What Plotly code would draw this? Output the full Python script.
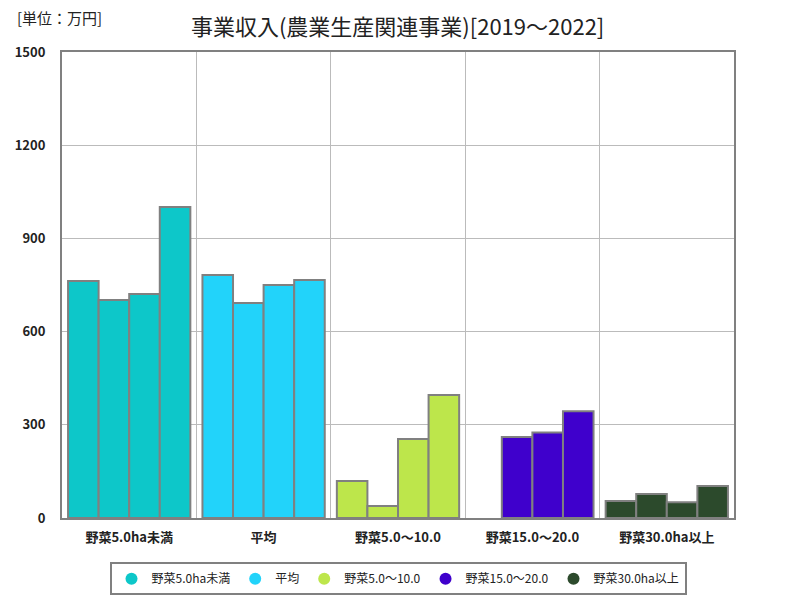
import plotly.graph_objects as go

categories = ["野菜5.0ha未満", "平均", "野菜5.0～10.0", "野菜15.0～20.0", "野菜30.0ha以上"]
years = ["2019", "2020", "2021", "2022"]
values = {
    "2019": [763, 782, 119, None, 55],
    "2020": [702, 692, 39, 261, 77],
    "2021": [721, 750, 254, 275, 51],
    "2022": [1001, 766, 396, 344, 103],
}
colors = ["#0dc7c9", "#22d3fa", "#bde64b", "#3f00cc", "#2c4a2c"]
tick_vals = [0, 300, 600, 900, 1200, 1500]

font = "Noto Sans CJK JP"
fig = go.Figure()
for y in years:
    fig.add_trace(go.Bar(
        x=categories, y=values[y], name=y, showlegend=False,
        marker=dict(color=colors, line=dict(color="#808080", width=2)),
    ))
for c, col in zip(categories, colors):
    fig.add_trace(go.Scatter(
        x=[None], y=[None], mode="markers", name=c,
        marker=dict(color=col, size=7, symbol="circle"),
    ))

fig.update_layout(
    width=800, height=600,
    margin=dict(l=62, r=66, t=52, b=82, autoexpand=False),
    paper_bgcolor="white", plot_bgcolor="white",
    barmode="group", bargap=0.09, bargroupgap=0,
    font=dict(family=font, color="#222"),
    title=dict(text="事業収入(農業生産関連事業)[2019～2022]", x=0.497, xanchor="center",
               y=0.955, yanchor="middle", font=dict(size=22, color="#222")),
    legend=dict(orientation="h", x=0.5, xanchor="center", y=-0.095, yanchor="top",
                bordercolor="#808080", borderwidth=2, font=dict(size=12, color="#222"),
                itemsizing="constant", tracegroupgap=0, itemwidth=30),
    annotations=[dict(text="[単位：万円]", xref="paper", yref="paper", x=-0.07, y=1.075,
                      xanchor="left", yanchor="middle", showarrow=False,
                      font=dict(size=15, color="#222"))],
)
fig.update_xaxes(type="category", tickson="boundaries", showgrid=True, gridcolor="#bbbbbb",
                 gridwidth=1, showline=True, linecolor="#808080", linewidth=2, mirror=True,
                 ticks="", ticklabelstandoff=6, automargin=False,
                 tickfont=dict(size=13, color="#222", family=font, weight="bold"))
fig.update_yaxes(range=[0, 1500], tickvals=tick_vals, showgrid=True, gridcolor="#bbbbbb",
                 gridwidth=1, showline=True, linecolor="#808080", linewidth=2, mirror=True,
                 zeroline=False, ticks="", ticklabelstandoff=12, automargin=False,
                 tickfont=dict(size=13, color="#222", family=font, weight="bold"))

fig.write_html("out.html")
